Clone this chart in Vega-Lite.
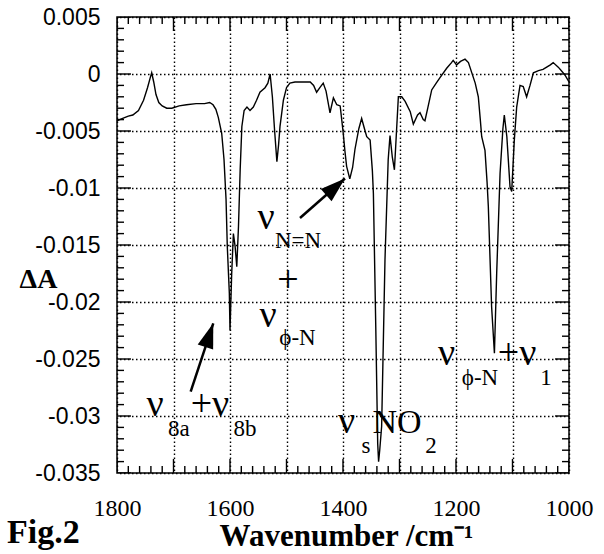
{
  "$schema": "https://vega.github.io/schema/vega-lite/v6.json",
  "width": 452,
  "height": 456,
  "autosize": {"type": "none"},
  "padding": {"left": 117, "top": 17, "right": 35, "bottom": 81},
  "background": "white",
  "config": {
    "view": {"stroke": "black", "strokeWidth": 1.5},
    "text": {"font": "Liberation Serif", "color": "black"}
  },
  "datasets": {
    "spectrum": [
      {"wn": 1800, "dA": -0.0041}, {"wn": 1790, "dA": -0.0039}, {"wn": 1780, "dA": -0.0037},
      {"wn": 1772, "dA": -0.0036}, {"wn": 1762, "dA": -0.0032}, {"wn": 1753, "dA": -0.0023},
      {"wn": 1746, "dA": -0.0012}, {"wn": 1741, "dA": -0.0003}, {"wn": 1738.6, "dA": 0.0001},
      {"wn": 1735, "dA": -0.0007}, {"wn": 1731, "dA": -0.0018}, {"wn": 1726, "dA": -0.0025},
      {"wn": 1720, "dA": -0.0028}, {"wn": 1712, "dA": -0.003}, {"wn": 1703, "dA": -0.003},
      {"wn": 1690, "dA": -0.0028}, {"wn": 1677, "dA": -0.0027}, {"wn": 1660, "dA": -0.0026},
      {"wn": 1645, "dA": -0.0026}, {"wn": 1636, "dA": -0.0025}, {"wn": 1630, "dA": -0.0027},
      {"wn": 1625, "dA": -0.0031}, {"wn": 1620.7, "dA": -0.0038}, {"wn": 1614.7, "dA": -0.0052},
      {"wn": 1610.6, "dA": -0.0075}, {"wn": 1607, "dA": -0.011}, {"wn": 1604.8, "dA": -0.0151},
      {"wn": 1601.2, "dA": -0.0192}, {"wn": 1600, "dA": -0.0225}, {"wn": 1597, "dA": -0.0175},
      {"wn": 1594, "dA": -0.014}, {"wn": 1591, "dA": -0.0151}, {"wn": 1588, "dA": -0.0169},
      {"wn": 1585, "dA": -0.0134}, {"wn": 1582, "dA": -0.0084}, {"wn": 1579, "dA": -0.0046},
      {"wn": 1575, "dA": -0.0032}, {"wn": 1570, "dA": -0.0029}, {"wn": 1564.6, "dA": -0.0032},
      {"wn": 1558.7, "dA": -0.0029}, {"wn": 1553, "dA": -0.0023}, {"wn": 1547, "dA": -0.0016},
      {"wn": 1538, "dA": -0.0012}, {"wn": 1533, "dA": -0.0008}, {"wn": 1529, "dA": 0.0},
      {"wn": 1525, "dA": -0.002}, {"wn": 1521, "dA": -0.005}, {"wn": 1517, "dA": -0.0077},
      {"wn": 1514, "dA": -0.0062}, {"wn": 1511.5, "dA": -0.0046}, {"wn": 1505.5, "dA": -0.0023},
      {"wn": 1500, "dA": -0.0012}, {"wn": 1494, "dA": -0.0008}, {"wn": 1485, "dA": -0.0007},
      {"wn": 1476, "dA": -0.0007}, {"wn": 1458, "dA": -0.0007}, {"wn": 1452, "dA": -0.001},
      {"wn": 1446.7, "dA": -0.0016}, {"wn": 1441, "dA": -0.0012}, {"wn": 1435, "dA": -0.0008},
      {"wn": 1430, "dA": -0.0015}, {"wn": 1423, "dA": -0.0034}, {"wn": 1417, "dA": -0.0021},
      {"wn": 1411, "dA": -0.0027}, {"wn": 1405, "dA": -0.0028}, {"wn": 1400, "dA": -0.005},
      {"wn": 1396.5, "dA": -0.0068}, {"wn": 1393.6, "dA": -0.0081}, {"wn": 1388, "dA": -0.0092},
      {"wn": 1383, "dA": -0.0082}, {"wn": 1378.8, "dA": -0.0066}, {"wn": 1372, "dA": -0.0048},
      {"wn": 1367, "dA": -0.0039}, {"wn": 1362, "dA": -0.0048}, {"wn": 1358, "dA": -0.0055},
      {"wn": 1352, "dA": -0.0058}, {"wn": 1348, "dA": -0.0085}, {"wn": 1346.2, "dA": -0.0105},
      {"wn": 1342, "dA": -0.0222}, {"wn": 1338.6, "dA": -0.0324}, {"wn": 1337, "dA": -0.034},
      {"wn": 1335, "dA": -0.033}, {"wn": 1331.6, "dA": -0.0309}, {"wn": 1325.7, "dA": -0.0163},
      {"wn": 1320, "dA": -0.0075}, {"wn": 1316.8, "dA": -0.0054}, {"wn": 1312.7, "dA": -0.0073},
      {"wn": 1309, "dA": -0.0084}, {"wn": 1306.8, "dA": -0.0064}, {"wn": 1302, "dA": -0.002},
      {"wn": 1296, "dA": -0.002}, {"wn": 1290, "dA": -0.0024}, {"wn": 1281, "dA": -0.0033},
      {"wn": 1275.5, "dA": -0.0044}, {"wn": 1268, "dA": -0.0036}, {"wn": 1263.7, "dA": -0.0034},
      {"wn": 1258, "dA": -0.004}, {"wn": 1255, "dA": -0.0041}, {"wn": 1250, "dA": -0.003},
      {"wn": 1243, "dA": -0.0014}, {"wn": 1235, "dA": -0.0008}, {"wn": 1228, "dA": -0.0003},
      {"wn": 1216.5, "dA": 0.0005}, {"wn": 1208, "dA": 0.001}, {"wn": 1205, "dA": 0.0012},
      {"wn": 1199, "dA": 0.0008}, {"wn": 1192, "dA": 0.0011}, {"wn": 1184, "dA": 0.0013},
      {"wn": 1178, "dA": 0.001}, {"wn": 1172, "dA": 0.0001}, {"wn": 1166, "dA": -0.0008},
      {"wn": 1160.5, "dA": -0.002}, {"wn": 1157, "dA": -0.004}, {"wn": 1154.5, "dA": -0.0055},
      {"wn": 1148.7, "dA": -0.0067}, {"wn": 1145, "dA": -0.0095}, {"wn": 1142.8, "dA": -0.0116},
      {"wn": 1137, "dA": -0.0204}, {"wn": 1132, "dA": -0.0245}, {"wn": 1128, "dA": -0.0175},
      {"wn": 1122, "dA": -0.0087}, {"wn": 1117, "dA": -0.0048}, {"wn": 1114.5, "dA": -0.0036},
      {"wn": 1110, "dA": -0.0055}, {"wn": 1104.4, "dA": -0.0099}, {"wn": 1101.4, "dA": -0.0103},
      {"wn": 1096.8, "dA": -0.0058}, {"wn": 1092.6, "dA": -0.0029}, {"wn": 1086.7, "dA": -0.001},
      {"wn": 1081, "dA": -0.0011}, {"wn": 1075, "dA": -0.002}, {"wn": 1069, "dA": -0.001},
      {"wn": 1063, "dA": 0.0001}, {"wn": 1054, "dA": 0.0003}, {"wn": 1046, "dA": 0.0004},
      {"wn": 1039.5, "dA": 0.0006}, {"wn": 1033, "dA": 0.0008}, {"wn": 1028, "dA": 0.001},
      {"wn": 1019, "dA": 0.0006}, {"wn": 1012, "dA": 0.0002}, {"wn": 1007, "dA": -0.0001},
      {"wn": 1000, "dA": -0.0007}
    ],
    "xticks": [
      {"wn": 1000, "m": 1}, {"wn": 1020, "m": 0}, {"wn": 1040, "m": 0}, {"wn": 1060, "m": 0}, {"wn": 1080, "m": 0},
      {"wn": 1100, "m": 1}, {"wn": 1120, "m": 0}, {"wn": 1140, "m": 0}, {"wn": 1160, "m": 0}, {"wn": 1180, "m": 0},
      {"wn": 1200, "m": 1}, {"wn": 1220, "m": 0}, {"wn": 1240, "m": 0}, {"wn": 1260, "m": 0}, {"wn": 1280, "m": 0},
      {"wn": 1300, "m": 1}, {"wn": 1320, "m": 0}, {"wn": 1340, "m": 0}, {"wn": 1360, "m": 0}, {"wn": 1380, "m": 0},
      {"wn": 1400, "m": 1}, {"wn": 1420, "m": 0}, {"wn": 1440, "m": 0}, {"wn": 1460, "m": 0}, {"wn": 1480, "m": 0},
      {"wn": 1500, "m": 1}, {"wn": 1520, "m": 0}, {"wn": 1540, "m": 0}, {"wn": 1560, "m": 0}, {"wn": 1580, "m": 0},
      {"wn": 1600, "m": 1}, {"wn": 1620, "m": 0}, {"wn": 1640, "m": 0}, {"wn": 1660, "m": 0}, {"wn": 1680, "m": 0},
      {"wn": 1700, "m": 1}, {"wn": 1720, "m": 0}, {"wn": 1740, "m": 0}, {"wn": 1760, "m": 0}, {"wn": 1780, "m": 0},
      {"wn": 1800, "m": 1}
    ],
    "yticks": [
      {"dA": -0.035, "m": 1}, {"dA": -0.034, "m": 0}, {"dA": -0.033, "m": 0}, {"dA": -0.032, "m": 0}, {"dA": -0.031, "m": 0},
      {"dA": -0.03, "m": 1}, {"dA": -0.029, "m": 0}, {"dA": -0.028, "m": 0}, {"dA": -0.027, "m": 0}, {"dA": -0.026, "m": 0},
      {"dA": -0.025, "m": 1}, {"dA": -0.024, "m": 0}, {"dA": -0.023, "m": 0}, {"dA": -0.022, "m": 0}, {"dA": -0.021, "m": 0},
      {"dA": -0.02, "m": 1}, {"dA": -0.019, "m": 0}, {"dA": -0.018, "m": 0}, {"dA": -0.017, "m": 0}, {"dA": -0.016, "m": 0},
      {"dA": -0.015, "m": 1}, {"dA": -0.014, "m": 0}, {"dA": -0.013, "m": 0}, {"dA": -0.012, "m": 0}, {"dA": -0.011, "m": 0},
      {"dA": -0.01, "m": 1}, {"dA": -0.009, "m": 0}, {"dA": -0.008, "m": 0}, {"dA": -0.007, "m": 0}, {"dA": -0.006, "m": 0},
      {"dA": -0.005, "m": 1}, {"dA": -0.004, "m": 0}, {"dA": -0.003, "m": 0}, {"dA": -0.002, "m": 0}, {"dA": -0.001, "m": 0},
      {"dA": 0, "m": 1}, {"dA": 0.001, "m": 0}, {"dA": 0.002, "m": 0}, {"dA": 0.003, "m": 0}, {"dA": 0.004, "m": 0},
      {"dA": 0.005, "m": 1}
    ],
    "nu": [
      {"wn": 1536.3, "dA": -0.0136, "t": "ν"},
      {"wn": 1497.3, "dA": -0.01912, "t": "+"},
      {"wn": 1532.7, "dA": -0.02219, "t": "ν"},
      {"wn": 1732.7, "dA": -0.03, "t": "ν"},
      {"wn": 1635.4, "dA": -0.03, "t": "+ν"},
      {"wn": 1393.8, "dA": -0.03149, "t": "ν"},
      {"wn": 1216.8, "dA": -0.02553, "t": "ν"},
      {"wn": 1092, "dA": -0.02553, "t": "+ν"}
    ],
    "big": [
      {"wn": 1304.4, "dA": -0.03149, "t": "NO"}
    ],
    "subs": [
      {"wn": 1479.6, "dA": -0.01526, "t": "N=N"},
      {"wn": 1480.5, "dA": -0.02377, "t": "ϕ-N"},
      {"wn": 1690.3, "dA": -0.03175, "t": "8a"},
      {"wn": 1573.5, "dA": -0.03175, "t": "8b"},
      {"wn": 1359.3, "dA": -0.03325, "t": "s"},
      {"wn": 1244.2, "dA": -0.03325, "t": "2"},
      {"wn": 1157.5, "dA": -0.02728, "t": "ϕ-N"},
      {"wn": 1040.7, "dA": -0.02728, "t": "1"}
    ],
    "fig": [
      {"wn": 1994.7, "dA": -0.04114, "t": "Fig.2"}
    ],
    "arrow1": [
      {"wn": 1476.1, "dA": -0.01263, "wn2": 1396.5, "dA2": -0.00917}
    ],
    "arrow2": [
      {"wn": 1669.6, "dA": -0.02787, "wn2": 1629.6, "dA2": -0.02187}
    ]
  },
  "layer": [
    {
      "data": {"name": "spectrum"},
      "mark": {"type": "line", "color": "black", "strokeWidth": 1.4},
      "encoding": {
        "x": {
          "field": "wn", "type": "quantitative",
          "scale": {"domain": [1000, 1800], "reverse": true, "nice": false, "zero": false},
          "axis": {
            "orient": "bottom",
            "values": [1000, 1100, 1200, 1300, 1400, 1500, 1600, 1700, 1800],
            "domain": false,
            "grid": true,
            "gridColor": "black",
            "gridDash": [1.5, 2.5],
            "gridWidth": 1.4,
            "ticks": false,
            "labelExpr": "datum.value % 200 === 0 ? datum.label : ''",
            "format": "d",
            "labelFont": "Liberation Serif",
            "labelFontSize": 24,
            "labelColor": "black",
            "labelPadding": 23,
            "labelDx": 5,
            "labelOverlap": false,
            "labelFlush": false,
            "labelBound": false,
            "title": "Wavenumber /cm⁻¹",
            "titleFont": "Liberation Serif",
            "titleFontSize": 31,
            "titleFontWeight": "bold",
            "titleColor": "black",
            "titleAlign": "center",
            "titleBaseline": "alphabetic",
            "titleX": 229,
            "titleY": 72
          }
        },
        "y": {
          "field": "dA", "type": "quantitative",
          "scale": {"domain": [-0.035, 0.005], "nice": false, "zero": false},
          "axis": {
            "orient": "left",
            "values": [-0.035, -0.03, -0.025, -0.02, -0.015, -0.01, -0.005, 0, 0.005],
            "domain": false,
            "grid": true,
            "gridColor": "black",
            "gridDash": [1.5, 2.5],
            "gridWidth": 1.4,
            "ticks": false,
            "labelExpr": "'' + round(datum.value*1000)/1000",
            "labelFont": "Liberation Sans",
            "labelFontSize": 23,
            "labelColor": "black",
            "labelPadding": 17,
            "labelOverlap": false,
            "labelFlush": false,
            "labelBound": false,
            "title": "ΔA",
            "titleAngle": 0,
            "titleFont": "Liberation Serif",
            "titleFontSize": 28,
            "titleFontWeight": "bold",
            "titleColor": "black",
            "titleAlign": "center",
            "titleBaseline": "alphabetic",
            "titleX": -79,
            "titleY": 270
          }
        }
      }
    },
    {
      "data": {"name": "xticks"},
      "layer": [
        {
          "mark": {"type": "tick", "orient": "vertical", "color": "black", "opacity": 1, "thickness": 1.4, "clip": true},
          "encoding": {
            "x": {"field": "wn", "type": "quantitative", "scale": {"domain": [1000, 1800], "reverse": true, "nice": false, "zero": false}},
            "y": {"datum": -0.035, "type": "quantitative", "scale": {"domain": [-0.035, 0.005], "nice": false, "zero": false}},
            "size": {"condition": {"test": "datum.m === 1", "value": 28}, "value": 14}
          }
        },
        {
          "mark": {"type": "tick", "orient": "vertical", "color": "black", "opacity": 1, "thickness": 1.4, "clip": true},
          "encoding": {
            "x": {"field": "wn", "type": "quantitative", "scale": {"domain": [1000, 1800], "reverse": true, "nice": false, "zero": false}},
            "y": {"datum": 0.005, "type": "quantitative", "scale": {"domain": [-0.035, 0.005], "nice": false, "zero": false}},
            "size": {"condition": {"test": "datum.m === 1", "value": 28}, "value": 14}
          }
        }
      ]
    },
    {
      "data": {"name": "yticks"},
      "layer": [
        {
          "mark": {"type": "tick", "orient": "horizontal", "color": "black", "opacity": 1, "thickness": 1.4, "clip": true},
          "encoding": {
            "x": {"datum": 1800, "type": "quantitative", "scale": {"domain": [1000, 1800], "reverse": true, "nice": false, "zero": false}},
            "y": {"field": "dA", "type": "quantitative", "scale": {"domain": [-0.035, 0.005], "nice": false, "zero": false}},
            "size": {"condition": {"test": "datum.m === 1", "value": 28}, "value": 14}
          }
        },
        {
          "mark": {"type": "tick", "orient": "horizontal", "color": "black", "opacity": 1, "thickness": 1.4, "clip": true},
          "encoding": {
            "x": {"datum": 1000, "type": "quantitative", "scale": {"domain": [1000, 1800], "reverse": true, "nice": false, "zero": false}},
            "y": {"field": "dA", "type": "quantitative", "scale": {"domain": [-0.035, 0.005], "nice": false, "zero": false}},
            "size": {"condition": {"test": "datum.m === 1", "value": 28}, "value": 14}
          }
        }
      ]
    },
    {
      "data": {"name": "arrow1"},
      "layer": [
        {
          "mark": {"type": "rule", "color": "black", "strokeWidth": 2.5},
          "encoding": {
            "x": {"field": "wn", "type": "quantitative", "scale": {"domain": [1000, 1800], "reverse": true, "nice": false, "zero": false}},
            "y": {"field": "dA", "type": "quantitative", "scale": {"domain": [-0.035, 0.005], "nice": false, "zero": false}},
            "x2": {"field": "wn2"},
            "y2": {"field": "dA2"}
          }
        },
        {
          "mark": {"type": "point", "shape": "M0,0L0.65,2L-0.65,2Z", "filled": true, "color": "black", "opacity": 1, "size": 625, "angle": 48.7},
          "encoding": {
            "x": {"field": "wn2", "type": "quantitative", "scale": {"domain": [1000, 1800], "reverse": true, "nice": false, "zero": false}},
            "y": {"field": "dA2", "type": "quantitative", "scale": {"domain": [-0.035, 0.005], "nice": false, "zero": false}}
          }
        }
      ]
    },
    {
      "data": {"name": "arrow2"},
      "layer": [
        {
          "mark": {"type": "rule", "color": "black", "strokeWidth": 2.5},
          "encoding": {
            "x": {"field": "wn", "type": "quantitative", "scale": {"domain": [1000, 1800], "reverse": true, "nice": false, "zero": false}},
            "y": {"field": "dA", "type": "quantitative", "scale": {"domain": [-0.035, 0.005], "nice": false, "zero": false}},
            "x2": {"field": "wn2"},
            "y2": {"field": "dA2"}
          }
        },
        {
          "mark": {"type": "point", "shape": "M0,0L0.65,2L-0.65,2Z", "filled": true, "color": "black", "opacity": 1, "size": 625, "angle": 18.3},
          "encoding": {
            "x": {"field": "wn2", "type": "quantitative", "scale": {"domain": [1000, 1800], "reverse": true, "nice": false, "zero": false}},
            "y": {"field": "dA2", "type": "quantitative", "scale": {"domain": [-0.035, 0.005], "nice": false, "zero": false}}
          }
        }
      ]
    },
    {
      "data": {"name": "nu"},
      "mark": {"type": "text", "font": "Liberation Serif", "fontSize": 38, "align": "center", "baseline": "alphabetic", "color": "black"},
      "encoding": {
        "x": {"field": "wn", "type": "quantitative", "scale": {"domain": [1000, 1800], "reverse": true, "nice": false, "zero": false}},
        "y": {"field": "dA", "type": "quantitative", "scale": {"domain": [-0.035, 0.005], "nice": false, "zero": false}},
        "text": {"field": "t"}
      }
    },
    {
      "data": {"name": "big"},
      "mark": {"type": "text", "font": "Liberation Serif", "fontSize": 34, "align": "center", "baseline": "alphabetic", "color": "black"},
      "encoding": {
        "x": {"field": "wn", "type": "quantitative", "scale": {"domain": [1000, 1800], "reverse": true, "nice": false, "zero": false}},
        "y": {"field": "dA", "type": "quantitative", "scale": {"domain": [-0.035, 0.005], "nice": false, "zero": false}},
        "text": {"field": "t"}
      }
    },
    {
      "data": {"name": "subs"},
      "mark": {"type": "text", "font": "Liberation Serif", "fontSize": 23, "align": "center", "baseline": "alphabetic", "color": "black"},
      "encoding": {
        "x": {"field": "wn", "type": "quantitative", "scale": {"domain": [1000, 1800], "reverse": true, "nice": false, "zero": false}},
        "y": {"field": "dA", "type": "quantitative", "scale": {"domain": [-0.035, 0.005], "nice": false, "zero": false}},
        "text": {"field": "t"}
      }
    },
    {
      "data": {"name": "fig"},
      "mark": {"type": "text", "font": "Liberation Serif", "fontSize": 34, "fontWeight": "bold", "align": "left", "baseline": "alphabetic", "color": "black"},
      "encoding": {
        "x": {"field": "wn", "type": "quantitative", "scale": {"domain": [1000, 1800], "reverse": true, "nice": false, "zero": false}},
        "y": {"field": "dA", "type": "quantitative", "scale": {"domain": [-0.035, 0.005], "nice": false, "zero": false}},
        "text": {"field": "t"}
      }
    }
  ]
}
